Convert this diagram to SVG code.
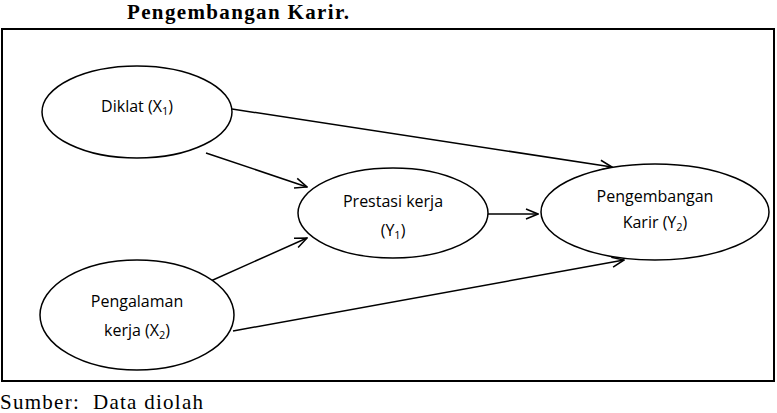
<svg xmlns="http://www.w3.org/2000/svg" width="777" height="413" viewBox="0 0 777 413">
<style>
.node ellipse{fill:#fff;stroke:#000;stroke-width:1.5}
.lbl{font-family:"Open Sans","Liberation Sans",sans-serif;font-size:16px;fill:#000;text-anchor:middle}
.sub{font-size:11px}
.conn line{stroke:#000;stroke-width:1.5;fill:none}
.serif{font-family:"Liberation Serif",serif;fill:#000}
</style>
<defs>
<marker id="arr" markerWidth="14" markerHeight="12" refX="13" refY="6" orient="auto" markerUnits="userSpaceOnUse">
<path d="M1,1 L13,6 L1,11" fill="none" stroke="#000" stroke-width="1.5"/>
</marker>
</defs>
<rect width="777" height="413" fill="#fff"/>
<text class="serif" x="127" y="19" font-size="21" font-weight="bold" textLength="222" lengthAdjust="spacing">Pengembangan Karir.</text>
<rect x="2" y="29" width="772" height="352" fill="none" stroke="#000" stroke-width="2"/>
<g class="conn">
<line x1="232" y1="109" x2="612" y2="167" marker-end="url(#arr)"/>
<line x1="206" y1="153" x2="307" y2="187" marker-end="url(#arr)"/>
<line x1="204" y1="284" x2="307" y2="238" marker-end="url(#arr)"/>
<line x1="488" y1="214" x2="538" y2="214" marker-end="url(#arr)"/>
<line x1="233" y1="331" x2="624" y2="260" marker-end="url(#arr)"/>
</g>
<g id="diklat" class="node">
<ellipse cx="137" cy="112" rx="95" ry="46"/>
<text class="lbl" x="137" y="112">Diklat (X<tspan class="sub" dy="3">1</tspan><tspan dy="-3">)</tspan></text>
</g>
<g id="prestasi" class="node">
<ellipse cx="393" cy="213" rx="95" ry="45"/>
<text class="lbl" x="393" y="207">Prestasi kerja</text>
<text class="lbl" x="393" y="236">(Y<tspan class="sub" dy="3">1</tspan><tspan dy="-3">)</tspan></text>
</g>
<g id="pengembangan" class="node">
<ellipse cx="655" cy="212" rx="114" ry="48"/>
<text class="lbl" x="655" y="202">Pengembangan</text>
<text class="lbl" x="655" y="228">Karir (Y<tspan class="sub" dy="3">2</tspan><tspan dy="-3">)</tspan></text>
</g>
<g id="pengalaman" class="node">
<ellipse cx="137" cy="315" rx="97" ry="55"/>
<text class="lbl" x="137" y="307">Pengalaman</text>
<text class="lbl" x="137" y="336">kerja (X<tspan class="sub" dy="3">2</tspan><tspan dy="-3">)</tspan></text>
</g>
<text class="serif" x="0" y="409" font-size="21" xml:space="preserve" textLength="203" lengthAdjust="spacing">Sumber:  Data diolah</text>
</svg>
